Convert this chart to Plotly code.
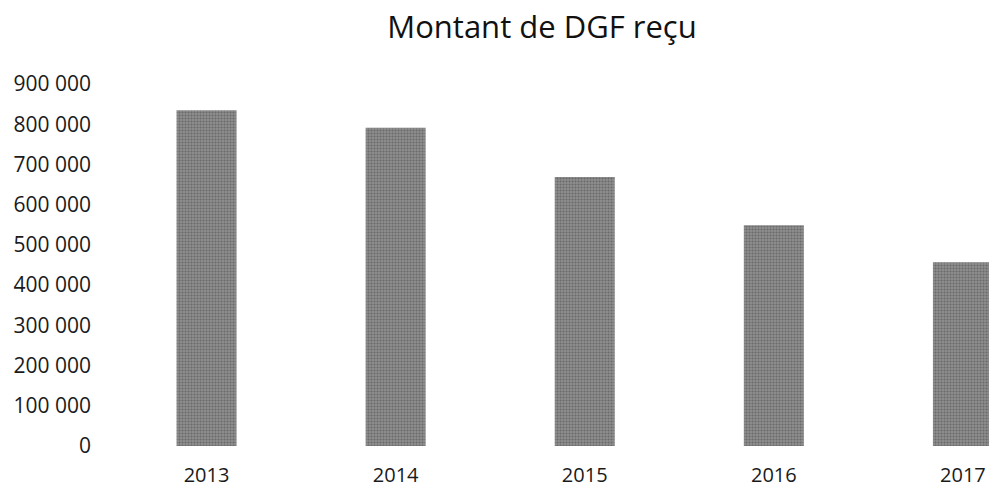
import plotly.graph_objects as go

years = ["2013", "2014", "2015", "2016", "2017"]
dgf = [835000, 791000, 669000, 549000, 457000]
y_ticks = [0, 100000, 200000, 300000, 400000, 500000, 600000, 700000, 800000, 900000]

fig = go.Figure()
fig.add_trace(go.Bar(
    x=years,
    y=dgf,
    marker=dict(
        color="#838383",
        line=dict(width=0),
        pattern=dict(shape=".", fgcolor="#444444", bgcolor="#8e8e8e", size=3, solidity=0.4),
    ),
    showlegend=False,
))

fig.update_layout(
    width=989,
    height=488,
    paper_bgcolor="white",
    plot_bgcolor="white",
    separators=", ",
    font=dict(family="Open Sans", size=20, color="#1a1a1a"),
    margin=dict(l=112, r=0, t=84, b=42, autoexpand=False),
    bargap=0.683,
    title=dict(
        text="Montant de DGF reçu",
        font=dict(family="Open Sans", size=31, color="#111111"),
        x=542 / 989,
        xref="container",
        xanchor="center",
        y=1 - 27 / 488,
        yref="container",
        yanchor="middle",
    ),
    xaxis=dict(
        type="category",
        range=[-0.5, 4.138],
        showgrid=False,
        showline=False,
        zeroline=False,
        ticks="",
        ticklabelstandoff=15,
    ),
    yaxis=dict(
        range=[0, 900000],
        tickvals=y_ticks,
        tickformat=",d",
        tickfont=dict(size=21),
        showgrid=False,
        showline=False,
        zeroline=False,
        ticks="",
        ticklabelstandoff=20,
    ),
)

fig.write_html(
    "out.html",
    config={"displayModeBar": False},
    post_script="document.body.style.margin='0';",
)
